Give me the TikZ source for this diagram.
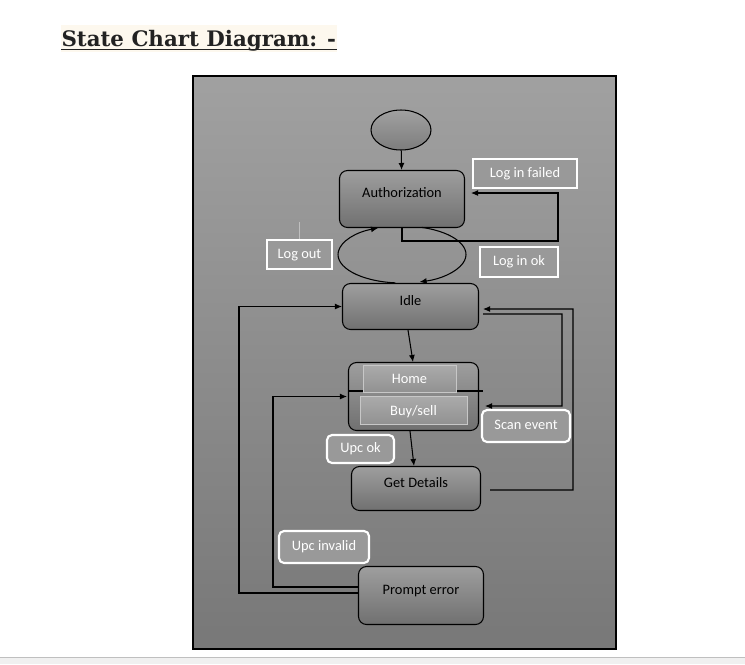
\documentclass[tikz,border=0pt]{standalone}
\usepackage{fontspec}
\setmainfont{Carlito}
\newfontfamily\headfont{DejaVu Serif}
\usetikzlibrary{arrows.meta,shapes.geometric}

\definecolor{cream}{HTML}{FDF8EE}
\definecolor{ink}{HTML}{222222}

\begin{document}
\begin{tikzpicture}[x=0.02cm,y=-0.02cm,-{Latex[length=1.4mm,width=1.2mm]},line width=0.6pt,font=\fontsize{8.2}{10}\selectfont]
   \useasboundingbox (0,0) rectangle (745,664);
   \fill[white] (0,0) rectangle (745,664);
   \tikzstyle{state}=[rectangle, rounded corners=0.16cm, draw=black, top color=black!38, bottom color=black!56, text height=0.16cm, text depth=0.22cm, inner sep=0pt]
   \tikzstyle{guard}=[rectangle, draw=white, line width=1.2pt, fill=black!40, text=white, text height=0.2cm, text depth=0.06cm, inner sep=0pt]
   \tikzstyle{part}=[rectangle, draw=black!22, line width=0.5pt, top color=black!33, bottom color=black!43, text=white, text height=0.22cm, text depth=0.02cm, inner sep=0pt]
   \fill[cream] (61,25) rectangle (337,52);
   \node[anchor=base west, inner sep=0pt, text=ink, font=\headfont\bfseries\fontsize{12.15}{14}\selectfont] (title) at (61,46) {State Chart Diagram: -};
   \draw[-, line width=0.6pt, ink] (61,49.5) -- (337,49.5);
   \shade[top color=black!37, bottom color=black!53] (193,76) rectangle (616,649);
   \draw[-, line width=0.7pt] (193,76) rectangle (616,649);
   \fill[black!6] (0,658) rectangle (745,664);
   \draw[-, black!25, line width=0.5pt] (0,657.5) -- (745,657.5);
   \node[ellipse, draw, top color=black!37, bottom color=black!51, minimum width=1.2cm, minimum height=0.8cm, inner sep=0pt] (start) at (401,130) {};
   \node[state, minimum width=2.5cm, minimum height=1.14cm] (auth) at (402,199) {Authorization};
   \node[state, minimum width=2.72cm, minimum height=0.92cm] (idle) at (410.5,306.5) {Idle};
   \node[state, minimum width=2.6cm, minimum height=1.36cm] (comp) at (413.5,396.5) {};
   \draw[-] (348.5,391) -- (483,391);
   \node[part, minimum width=1.86cm, minimum height=0.54cm] (home) at (409.5,378.5) {Home};
   \node[part, minimum width=2.14cm, minimum height=0.56cm] (buysell) at (413.5,410) {Buy/sell};
   \node[state, minimum width=2.58cm, minimum height=0.88cm] (details) at (416,488.5) {Get Details};
   \node[state, minimum width=2.5cm, minimum height=1.16cm] (prompt) at (421,595.5) {Prompt error};
   \node[guard, minimum width=2.08cm, minimum height=0.58cm] (failed) at (525,173.5) {Log in failed};
   \node[guard, minimum width=1.3cm, minimum height=0.58cm] (logout) at (299.5,254.5) {Log out};
   \node[guard, minimum width=1.56cm, minimum height=0.6cm] (logok) at (519,262) {Log in ok};
   \node[guard, rounded corners=0.1cm, minimum width=1.76cm, minimum height=0.64cm] (scan) at (526,426) {Scan event};
   \node[guard, rounded corners=0.1cm, minimum width=1.34cm, minimum height=0.56cm] (upcok) at (360.5,449) {Upc ok};
   \node[guard, rounded corners=0.1cm, minimum width=1.8cm, minimum height=0.64cm] (upcinv) at (324,547) {Upc invalid};
   \draw[-, black!25, line width=0.5pt] (logout.north) -- ++(0,-17);
   \path (start) edge (auth);
   \draw (auth.south) |- (558,241) |- ([shift={(0.12cm,0.12cm)}]auth.east);
   \coordinate (loop) at (402,254.5);
   \draw ([shift={(264:1.28cm and 0.57cm)}]loop) arc[start angle=264, end angle=112, x radius=1.28cm, y radius=0.57cm];
   \draw ([shift={(72:1.28cm and 0.57cm)}]loop) arc[start angle=72, end angle=-74, x radius=1.28cm, y radius=0.57cm];
   \path ([xshift=-0.05cm]idle.south) edge ([xshift=-0.01cm]comp.north);
   \path ([xshift=-0.07cm]comp.south) edge ([xshift=-0.04cm]details.north);
   \draw ([shift={(0.18cm,-0.03cm)}]details.east) -| (573,309) -- ([shift={(0.08cm,-0.05cm)}]idle.east);
   \draw ([shift={(0.08cm,-0.15cm)}]idle.east) -| (562,406) -- ([shift={(0.12cm,-0.19cm)}]comp.east);
   \draw ([yshift=0.17cm]prompt.west) -| (273,396.5) -- ([xshift=-0.02cm]comp.west);
   \draw ([yshift=0.05cm]prompt.west) -| (239,306.5) -- (idle.west);
\end{tikzpicture}
\end{document}
